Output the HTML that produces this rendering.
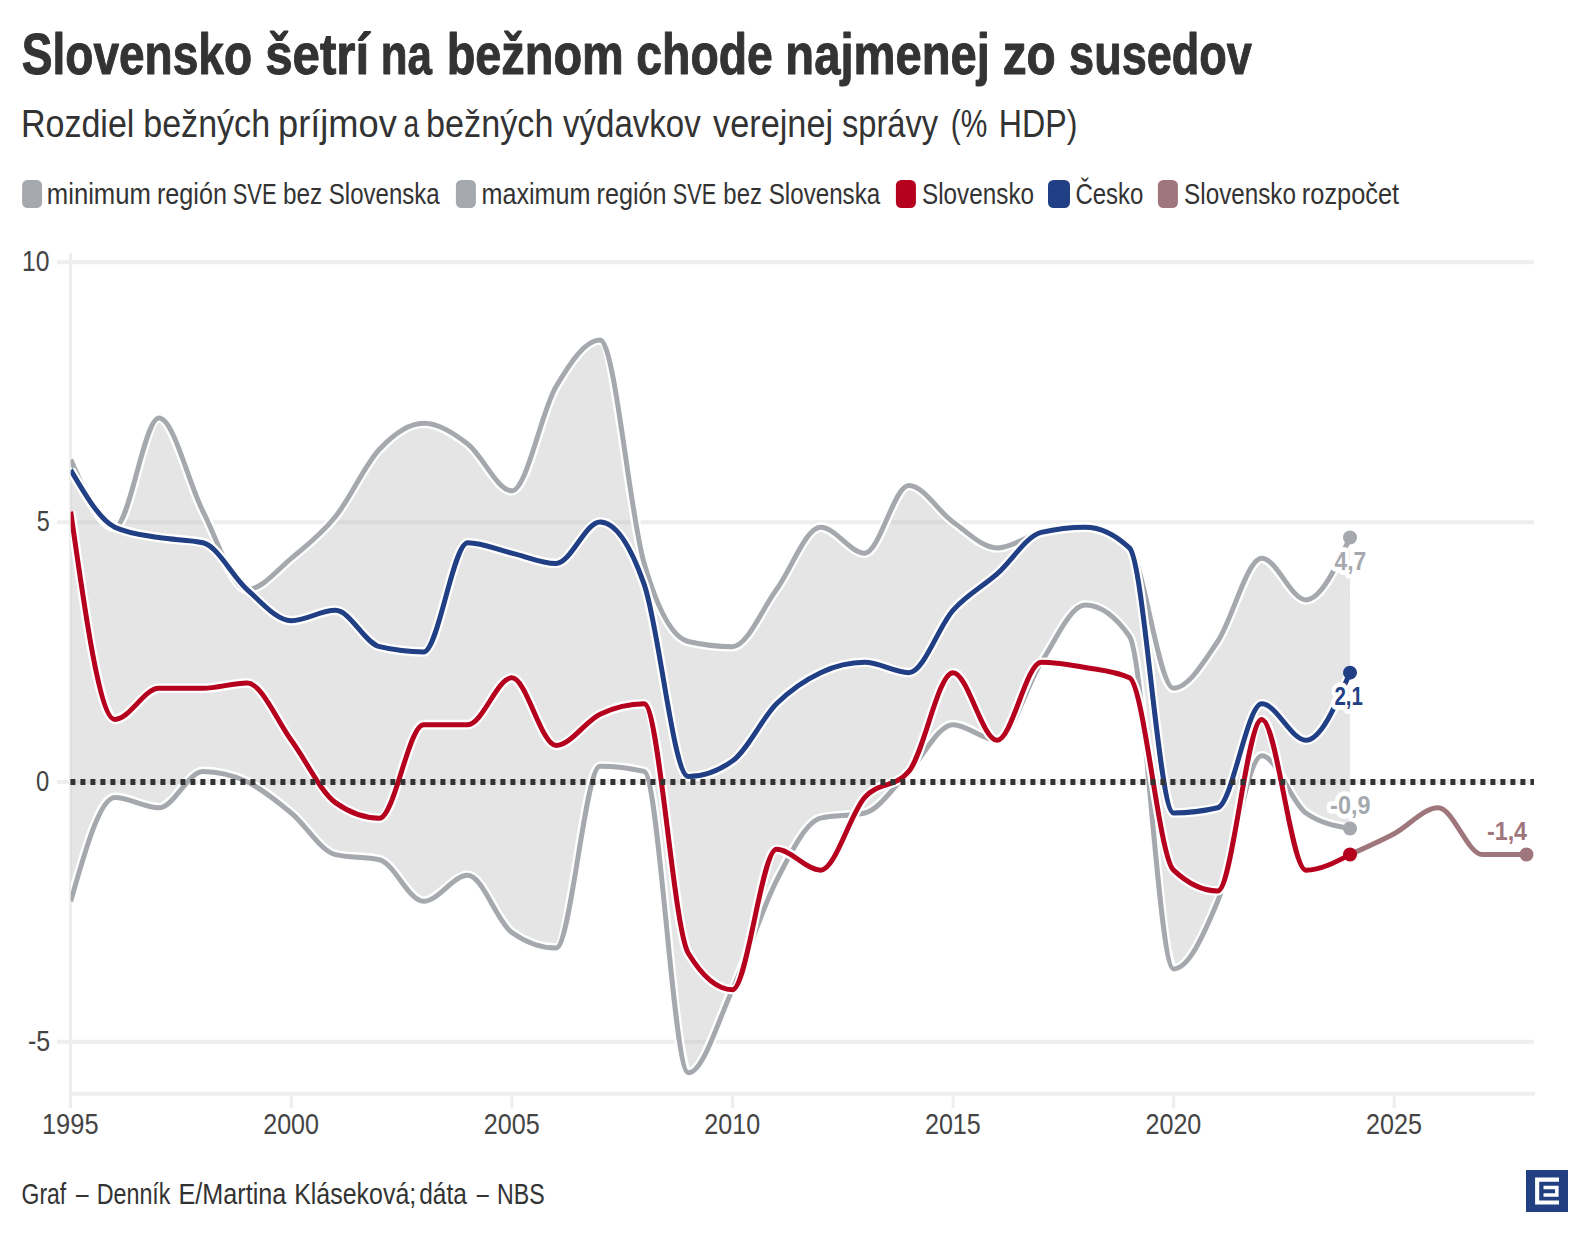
<!DOCTYPE html>
<html lang="sk"><head><meta charset="utf-8"><title>Slovensko šetrí na bežnom chode najmenej zo susedov</title>
<style>
html,body{margin:0;padding:0;background:#fff;}
body{width:1588px;height:1240px;overflow:hidden;}
svg{display:block;font-family:"Liberation Sans",sans-serif;}
.halo{fill:none;stroke:#fff;stroke-width:9.6;stroke-linecap:butt;stroke-linejoin:round;}
.ln{fill:none;stroke-width:5;stroke-linecap:butt;stroke-linejoin:round;}
.lab{paint-order:stroke;stroke:#fff;stroke-width:9.5;stroke-linejoin:round;}
</style></head><body>
<svg width="1588" height="1240" viewBox="0 0 1588 1240">
<rect width="1588" height="1240" fill="#fff"/>

<g id="title" stroke="#333" stroke-width="1" stroke-linejoin="round">
<text transform="translate(21.81,73.9) scale(0.8134,1)" font-size="56.6" font-weight="bold" fill="#333333">Slovensko</text>
<text transform="translate(265.17,73.9) scale(0.8708,1)" font-size="56.6" font-weight="bold" fill="#333333">šetrí</text>
<text transform="translate(380.85,73.9) scale(0.7743,1)" font-size="56.6" font-weight="bold" fill="#333333">na</text>
<text transform="translate(446.65,73.9) scale(0.8282,1)" font-size="56.6" font-weight="bold" fill="#333333">bežnom</text>
<text transform="translate(636.29,73.9) scale(0.8194,1)" font-size="56.6" font-weight="bold" fill="#333333">chode</text>
<text transform="translate(785.33,73.9) scale(0.8338,1)" font-size="56.6" font-weight="bold" fill="#333333">najmenej</text>
<text transform="translate(1002.69,73.9) scale(0.8457,1)" font-size="56.6" font-weight="bold" fill="#333333">zo</text>
<text transform="translate(1069.12,73.9) scale(0.7959,1)" font-size="56.6" font-weight="bold" fill="#333333">susedov</text>
</g>
<g id="subtitle">
<text transform="translate(20.91,137.4) scale(0.8685,1)" font-size="39.2" fill="#333333">Rozdiel</text>
<text transform="translate(143.22,137.4) scale(0.8690,1)" font-size="39.2" fill="#333333">bežných</text>
<text transform="translate(277.98,137.4) scale(0.9248,1)" font-size="39.2" fill="#333333">príjmov</text>
<text transform="translate(403.52,137.4) scale(0.7182,1)" font-size="39.2" fill="#333333">a</text>
<text transform="translate(426.11,137.4) scale(0.8719,1)" font-size="39.2" fill="#333333">bežných</text>
<text transform="translate(563,137.4) scale(0.8428,1)" font-size="39.2" fill="#333333">výdavkov</text>
<text transform="translate(713,137.4) scale(0.8756,1)" font-size="39.2" fill="#333333">verejnej</text>
<text transform="translate(841.92,137.4) scale(0.8328,1)" font-size="39.2" fill="#333333">správy</text>
<text transform="translate(950.75,137.4) scale(0.7619,1)" font-size="39.2" fill="#333333">(%</text>
<text transform="translate(998.86,137.4) scale(0.8208,1)" font-size="39.2" fill="#333333">HDP)</text>
</g>
<g id="legend">
<rect x="22.1" y="180" width="20" height="28" rx="5.5" ry="5.5" fill="#a5a9ae"/>
<rect x="455.9" y="180" width="20" height="28" rx="5.5" ry="5.5" fill="#a5a9ae"/>
<rect x="895.9" y="180" width="20" height="28" rx="5.5" ry="5.5" fill="#b5001e"/>
<rect x="1048" y="180" width="22" height="28" rx="5.5" ry="5.5" fill="#213f84"/>
<rect x="1157.9" y="180" width="20" height="28" rx="5.5" ry="5.5" fill="#a0767d"/>
<text transform="translate(46.81,203.8) scale(0.8856,1)" font-size="29" fill="#333333">minimum</text>
<text transform="translate(156.94,203.8) scale(0.8692,1)" font-size="29" fill="#333333">región</text>
<text transform="translate(232.71,203.8) scale(0.7567,1)" font-size="29" fill="#333333">SVE</text>
<text transform="translate(283.04,203.8) scale(0.8396,1)" font-size="29" fill="#333333">bez</text>
<text transform="translate(328.82,203.8) scale(0.8292,1)" font-size="29" fill="#333333">Slovenska</text>
<text transform="translate(481.44,203.8) scale(0.8680,1)" font-size="29" fill="#333333">maximum</text>
<text transform="translate(596.54,203.8) scale(0.8692,1)" font-size="29" fill="#333333">región</text>
<text transform="translate(672.82,203.8) scale(0.7495,1)" font-size="29" fill="#333333">SVE</text>
<text transform="translate(723.37,203.8) scale(0.8235,1)" font-size="29" fill="#333333">bez</text>
<text transform="translate(768.71,203.8) scale(0.8338,1)" font-size="29" fill="#333333">Slovenska</text>
<text transform="translate(922.01,203.8) scale(0.8377,1)" font-size="29" fill="#333333">Slovensko</text>
<text transform="translate(1075.4,203.8) scale(0.8284,1)" font-size="29" fill="#333333">Česko</text>
<text transform="translate(1184.11,203.8) scale(0.8362,1)" font-size="29" fill="#333333">Slovensko</text>
<text transform="translate(1301.83,203.8) scale(0.8751,1)" font-size="29" fill="#333333">rozpočet</text>
</g>
<g id="grid" stroke="#eeeeee" stroke-width="4">
<line x1="57" x2="1534" y1="262.3" y2="262.3"/>
<line x1="57" x2="1534" y1="522.15" y2="522.15"/>
<line x1="57" x2="1534" y1="782" y2="782"/>
<line x1="57" x2="1534" y1="1041.85" y2="1041.85"/>
<line x1="69" x2="1535" y1="1093.7" y2="1093.7"/>
<line x1="291.37" x2="291.37" y1="1093.7" y2="1108" stroke-width="3"/>
<line x1="511.94" x2="511.94" y1="1093.7" y2="1108" stroke-width="3"/>
<line x1="732.51" x2="732.51" y1="1093.7" y2="1108" stroke-width="3"/>
<line x1="953.08" x2="953.08" y1="1093.7" y2="1108" stroke-width="3"/>
<line x1="1173.65" x2="1173.65" y1="1093.7" y2="1108" stroke-width="3"/>
<line x1="1394.22" x2="1394.22" y1="1093.7" y2="1108" stroke-width="3"/>
<line x1="70.5" x2="70.5" y1="253" y2="1108" stroke-width="3"/>
</g>
<g id="ylabels">
<text transform="translate(21.93,271.4) scale(0.8500,1)" font-size="29" fill="#444">10</text>
<text transform="translate(36.67,531.25) scale(0.8058,1)" font-size="29" fill="#444">5</text>
<text transform="translate(36.07,791.1) scale(0.8207,1)" font-size="29" fill="#444">0</text>
<text transform="translate(27.9,1050.95) scale(0.8621,1)" font-size="29" fill="#444">-5</text>
</g><g id="xlabels">
<text transform="translate(41.97,1134) scale(0.8772,1)" font-size="29" fill="#444">1995</text>
<text transform="translate(263.22,1134) scale(0.8653,1)" font-size="29" fill="#444">2000</text>
<text transform="translate(483.78,1134) scale(0.8665,1)" font-size="29" fill="#444">2005</text>
<text transform="translate(704.36,1134) scale(0.8653,1)" font-size="29" fill="#444">2010</text>
<text transform="translate(924.92,1134) scale(0.8665,1)" font-size="29" fill="#444">2015</text>
<text transform="translate(1145.5,1134) scale(0.8653,1)" font-size="29" fill="#444">2020</text>
<text transform="translate(1366.06,1134) scale(0.8665,1)" font-size="29" fill="#444">2025</text>
</g>
<clipPath id="plotclip"><rect x="70.7" y="240" width="1480" height="870"/></clipPath><g clip-path="url(#plotclip)">
<path d="M70.7,459.59C85.4,493.37,100.11,527.15,114.81,527.15C129.52,527.15,144.22,418.01,158.93,418.01C173.63,418.01,188.34,482.97,203.04,511.56C217.75,540.14,232.45,589.51,247.16,589.51C261.86,589.51,276.57,570.46,291.27,558.33C305.97,546.2,320.68,534.94,335.38,516.75C350.09,498.56,364.79,464.78,379.5,449.19C394.2,433.6,408.91,423.21,423.61,423.21C438.32,423.21,453.02,432.73,467.73,443.99C482.43,455.26,497.14,490.77,511.84,490.77C526.54,490.77,541.25,411.95,555.95,386.83C570.66,361.71,585.36,340.05,600.07,340.05C614.77,340.05,629.48,513.29,644.18,563.53C658.89,613.76,673.59,638.02,688.3,641.48C703,644.95,717.71,646.68,732.41,646.68C747.11,646.68,761.82,609.43,776.52,589.51C791.23,569.59,805.93,527.15,820.64,527.15C835.34,527.15,850.05,553.13,864.75,553.13C879.46,553.13,894.16,485.57,908.87,485.57C923.57,485.57,938.28,511.56,952.98,521.95C967.68,532.34,982.39,547.93,997.09,547.93C1011.8,547.93,1026.5,535.81,1041.21,532.34C1055.91,528.88,1070.62,527.15,1085.32,527.15C1100.03,527.15,1114.73,534.08,1129.44,547.93C1144.14,561.79,1158.85,688.25,1173.55,688.25C1188.25,688.25,1202.96,663.14,1217.66,641.48C1232.37,619.83,1247.07,558.33,1261.78,558.33C1276.48,558.33,1291.19,599.9,1305.89,599.9C1320.6,599.9,1335.3,568.72,1350.01,537.54L1350.01,828.57C1335.3,825.97,1320.6,823.38,1305.89,812.98C1291.19,802.59,1276.48,755.81,1261.78,755.81C1247.07,755.81,1232.37,865.82,1217.66,901.33C1202.96,936.84,1188.25,968.89,1173.55,968.89C1158.85,968.89,1144.14,657.07,1129.44,636.28C1114.73,615.5,1100.03,605.1,1085.32,605.1C1070.62,605.1,1055.91,639.75,1041.21,662.27C1026.5,684.79,1011.8,740.22,997.09,740.22C982.39,740.22,967.68,724.63,952.98,724.63C938.28,724.63,923.57,756.68,908.87,771.41C894.16,786.13,879.46,809.52,864.75,812.98C850.05,816.45,835.34,814.71,820.64,818.18C805.93,821.64,791.23,851.96,776.52,880.54C761.82,909.13,747.11,957.63,732.41,989.68C717.71,1021.73,703,1072.83,688.3,1072.83C673.59,1072.83,658.89,774.87,644.18,771.41C629.48,767.94,614.77,766.21,600.07,766.21C585.36,766.21,570.66,948.1,555.95,948.1C541.25,948.1,526.54,942.91,511.84,932.51C497.14,922.12,482.43,875.35,467.73,875.35C453.02,875.35,438.32,901.33,423.61,901.33C408.91,901.33,394.2,863.22,379.5,859.75C364.79,856.29,350.09,858.02,335.38,854.56C320.68,851.09,305.97,825.11,291.27,812.98C276.57,800.86,261.86,788.73,247.16,781.8C232.45,774.87,217.75,771.41,203.04,771.41C188.34,771.41,173.63,807.78,158.93,807.78C144.22,807.78,129.52,797.39,114.81,797.39C100.11,797.39,85.4,849.36,70.7,901.33Z" fill="#bbbbbb" fill-opacity="0.38"/>
<path class="halo" d="M70.7,901.33C85.4,849.36,100.11,797.39,114.81,797.39C129.52,797.39,144.22,807.78,158.93,807.78C173.63,807.78,188.34,771.41,203.04,771.41C217.75,771.41,232.45,774.87,247.16,781.8C261.86,788.73,276.57,800.86,291.27,812.98C305.97,825.11,320.68,851.09,335.38,854.56C350.09,858.02,364.79,856.29,379.5,859.75C394.2,863.22,408.91,901.33,423.61,901.33C438.32,901.33,453.02,875.35,467.73,875.35C482.43,875.35,497.14,922.12,511.84,932.51C526.54,942.91,541.25,948.1,555.95,948.1C570.66,948.1,585.36,766.21,600.07,766.21C614.77,766.21,629.48,767.94,644.18,771.41C658.89,774.87,673.59,1072.83,688.3,1072.83C703,1072.83,717.71,1021.73,732.41,989.68C747.11,957.63,761.82,909.13,776.52,880.54C791.23,851.96,805.93,821.64,820.64,818.18C835.34,814.71,850.05,816.45,864.75,812.98C879.46,809.52,894.16,786.13,908.87,771.41C923.57,756.68,938.28,724.63,952.98,724.63C967.68,724.63,982.39,740.22,997.09,740.22C1011.8,740.22,1026.5,684.79,1041.21,662.27C1055.91,639.75,1070.62,605.1,1085.32,605.1C1100.03,605.1,1114.73,615.5,1129.44,636.28C1144.14,657.07,1158.85,968.89,1173.55,968.89C1188.25,968.89,1202.96,936.84,1217.66,901.33C1232.37,865.82,1247.07,755.81,1261.78,755.81C1276.48,755.81,1291.19,802.59,1305.89,812.98C1320.6,823.38,1335.3,825.97,1350.01,828.57"/>
<path class="ln" stroke="#a5a9ae" d="M70.7,901.33C85.4,849.36,100.11,797.39,114.81,797.39C129.52,797.39,144.22,807.78,158.93,807.78C173.63,807.78,188.34,771.41,203.04,771.41C217.75,771.41,232.45,774.87,247.16,781.8C261.86,788.73,276.57,800.86,291.27,812.98C305.97,825.11,320.68,851.09,335.38,854.56C350.09,858.02,364.79,856.29,379.5,859.75C394.2,863.22,408.91,901.33,423.61,901.33C438.32,901.33,453.02,875.35,467.73,875.35C482.43,875.35,497.14,922.12,511.84,932.51C526.54,942.91,541.25,948.1,555.95,948.1C570.66,948.1,585.36,766.21,600.07,766.21C614.77,766.21,629.48,767.94,644.18,771.41C658.89,774.87,673.59,1072.83,688.3,1072.83C703,1072.83,717.71,1021.73,732.41,989.68C747.11,957.63,761.82,909.13,776.52,880.54C791.23,851.96,805.93,821.64,820.64,818.18C835.34,814.71,850.05,816.45,864.75,812.98C879.46,809.52,894.16,786.13,908.87,771.41C923.57,756.68,938.28,724.63,952.98,724.63C967.68,724.63,982.39,740.22,997.09,740.22C1011.8,740.22,1026.5,684.79,1041.21,662.27C1055.91,639.75,1070.62,605.1,1085.32,605.1C1100.03,605.1,1114.73,615.5,1129.44,636.28C1144.14,657.07,1158.85,968.89,1173.55,968.89C1188.25,968.89,1202.96,936.84,1217.66,901.33C1232.37,865.82,1247.07,755.81,1261.78,755.81C1276.48,755.81,1291.19,802.59,1305.89,812.98C1320.6,823.38,1335.3,825.97,1350.01,828.57"/>
<path class="halo" d="M70.7,459.59C85.4,493.37,100.11,527.15,114.81,527.15C129.52,527.15,144.22,418.01,158.93,418.01C173.63,418.01,188.34,482.97,203.04,511.56C217.75,540.14,232.45,589.51,247.16,589.51C261.86,589.51,276.57,570.46,291.27,558.33C305.97,546.2,320.68,534.94,335.38,516.75C350.09,498.56,364.79,464.78,379.5,449.19C394.2,433.6,408.91,423.21,423.61,423.21C438.32,423.21,453.02,432.73,467.73,443.99C482.43,455.26,497.14,490.77,511.84,490.77C526.54,490.77,541.25,411.95,555.95,386.83C570.66,361.71,585.36,340.05,600.07,340.05C614.77,340.05,629.48,513.29,644.18,563.53C658.89,613.76,673.59,638.02,688.3,641.48C703,644.95,717.71,646.68,732.41,646.68C747.11,646.68,761.82,609.43,776.52,589.51C791.23,569.59,805.93,527.15,820.64,527.15C835.34,527.15,850.05,553.13,864.75,553.13C879.46,553.13,894.16,485.57,908.87,485.57C923.57,485.57,938.28,511.56,952.98,521.95C967.68,532.34,982.39,547.93,997.09,547.93C1011.8,547.93,1026.5,535.81,1041.21,532.34C1055.91,528.88,1070.62,527.15,1085.32,527.15C1100.03,527.15,1114.73,534.08,1129.44,547.93C1144.14,561.79,1158.85,688.25,1173.55,688.25C1188.25,688.25,1202.96,663.14,1217.66,641.48C1232.37,619.83,1247.07,558.33,1261.78,558.33C1276.48,558.33,1291.19,599.9,1305.89,599.9C1320.6,599.9,1335.3,568.72,1350.01,537.54"/>
<path class="ln" stroke="#a5a9ae" d="M70.7,459.59C85.4,493.37,100.11,527.15,114.81,527.15C129.52,527.15,144.22,418.01,158.93,418.01C173.63,418.01,188.34,482.97,203.04,511.56C217.75,540.14,232.45,589.51,247.16,589.51C261.86,589.51,276.57,570.46,291.27,558.33C305.97,546.2,320.68,534.94,335.38,516.75C350.09,498.56,364.79,464.78,379.5,449.19C394.2,433.6,408.91,423.21,423.61,423.21C438.32,423.21,453.02,432.73,467.73,443.99C482.43,455.26,497.14,490.77,511.84,490.77C526.54,490.77,541.25,411.95,555.95,386.83C570.66,361.71,585.36,340.05,600.07,340.05C614.77,340.05,629.48,513.29,644.18,563.53C658.89,613.76,673.59,638.02,688.3,641.48C703,644.95,717.71,646.68,732.41,646.68C747.11,646.68,761.82,609.43,776.52,589.51C791.23,569.59,805.93,527.15,820.64,527.15C835.34,527.15,850.05,553.13,864.75,553.13C879.46,553.13,894.16,485.57,908.87,485.57C923.57,485.57,938.28,511.56,952.98,521.95C967.68,532.34,982.39,547.93,997.09,547.93C1011.8,547.93,1026.5,535.81,1041.21,532.34C1055.91,528.88,1070.62,527.15,1085.32,527.15C1100.03,527.15,1114.73,534.08,1129.44,547.93C1144.14,561.79,1158.85,688.25,1173.55,688.25C1188.25,688.25,1202.96,663.14,1217.66,641.48C1232.37,619.83,1247.07,558.33,1261.78,558.33C1276.48,558.33,1291.19,599.9,1305.89,599.9C1320.6,599.9,1335.3,568.72,1350.01,537.54"/>
<path class="halo" d="M70.7,511.56C85.4,615.5,100.11,719.44,114.81,719.44C129.52,719.44,144.22,688.25,158.93,688.25C173.63,688.25,188.34,688.25,203.04,688.25C217.75,688.25,232.45,683.06,247.16,683.06C261.86,683.06,276.57,720.3,291.27,740.22C305.97,760.15,320.68,792.19,335.38,802.59C350.09,812.98,364.79,818.18,379.5,818.18C394.2,818.18,408.91,724.63,423.61,724.63C438.32,724.63,453.02,724.63,467.73,724.63C482.43,724.63,497.14,677.86,511.84,677.86C526.54,677.86,541.25,745.42,555.95,745.42C570.66,745.42,585.36,721.17,600.07,714.24C614.77,707.31,629.48,703.84,644.18,703.84C658.89,703.84,673.59,929.05,688.3,953.3C703,977.55,717.71,989.68,732.41,989.68C747.11,989.68,761.82,849.36,776.52,849.36C791.23,849.36,805.93,870.15,820.64,870.15C835.34,870.15,850.05,813.85,864.75,797.39C879.46,780.93,894.16,788.73,908.87,771.41C923.57,754.08,938.28,672.66,952.98,672.66C967.68,672.66,982.39,740.22,997.09,740.22C1011.8,740.22,1026.5,662.27,1041.21,662.27C1055.91,662.27,1070.62,664.87,1085.32,667.47C1100.03,670.06,1114.73,670.93,1129.44,677.86C1144.14,684.79,1158.85,856.29,1173.55,870.15C1188.25,884.01,1202.96,890.94,1217.66,890.94C1232.37,890.94,1247.07,719.44,1261.78,719.44C1276.48,719.44,1291.19,870.15,1305.89,870.15C1320.6,870.15,1335.3,862.35,1350.01,854.56"/>
<path class="ln" stroke="#b5001e" d="M70.7,511.56C85.4,615.5,100.11,719.44,114.81,719.44C129.52,719.44,144.22,688.25,158.93,688.25C173.63,688.25,188.34,688.25,203.04,688.25C217.75,688.25,232.45,683.06,247.16,683.06C261.86,683.06,276.57,720.3,291.27,740.22C305.97,760.15,320.68,792.19,335.38,802.59C350.09,812.98,364.79,818.18,379.5,818.18C394.2,818.18,408.91,724.63,423.61,724.63C438.32,724.63,453.02,724.63,467.73,724.63C482.43,724.63,497.14,677.86,511.84,677.86C526.54,677.86,541.25,745.42,555.95,745.42C570.66,745.42,585.36,721.17,600.07,714.24C614.77,707.31,629.48,703.84,644.18,703.84C658.89,703.84,673.59,929.05,688.3,953.3C703,977.55,717.71,989.68,732.41,989.68C747.11,989.68,761.82,849.36,776.52,849.36C791.23,849.36,805.93,870.15,820.64,870.15C835.34,870.15,850.05,813.85,864.75,797.39C879.46,780.93,894.16,788.73,908.87,771.41C923.57,754.08,938.28,672.66,952.98,672.66C967.68,672.66,982.39,740.22,997.09,740.22C1011.8,740.22,1026.5,662.27,1041.21,662.27C1055.91,662.27,1070.62,664.87,1085.32,667.47C1100.03,670.06,1114.73,670.93,1129.44,677.86C1144.14,684.79,1158.85,856.29,1173.55,870.15C1188.25,884.01,1202.96,890.94,1217.66,890.94C1232.37,890.94,1247.07,719.44,1261.78,719.44C1276.48,719.44,1291.19,870.15,1305.89,870.15C1320.6,870.15,1335.3,862.35,1350.01,854.56"/>
<path class="halo" d="M70.7,469.98C85.4,495.1,100.11,520.22,114.81,527.15C129.52,534.08,144.22,534.94,158.93,537.54C173.63,540.14,188.34,539.27,203.04,542.74C217.75,546.2,232.45,576.52,247.16,589.51C261.86,602.5,276.57,620.69,291.27,620.69C305.97,620.69,320.68,610.3,335.38,610.3C350.09,610.3,364.79,643.21,379.5,646.68C394.2,650.14,408.91,651.88,423.61,651.88C438.32,651.88,453.02,542.74,467.73,542.74C482.43,542.74,497.14,549.67,511.84,553.13C526.54,556.6,541.25,563.53,555.95,563.53C570.66,563.53,585.36,521.95,600.07,521.95C614.77,521.95,629.48,542.74,644.18,584.31C658.89,625.89,673.59,776.6,688.3,776.6C703,776.6,717.71,771.41,732.41,761.01C747.11,750.62,761.82,718.57,776.52,703.84C791.23,689.12,805.93,679.59,820.64,672.66C835.34,665.73,850.05,662.27,864.75,662.27C879.46,662.27,894.16,672.66,908.87,672.66C923.57,672.66,938.28,626.76,952.98,610.3C967.68,593.84,982.39,586.91,997.09,573.92C1011.8,560.93,1026.5,535.81,1041.21,532.34C1055.91,528.88,1070.62,527.15,1085.32,527.15C1100.03,527.15,1114.73,534.08,1129.44,547.93C1144.14,561.79,1158.85,812.98,1173.55,812.98C1188.25,812.98,1202.96,811.25,1217.66,807.78C1232.37,804.32,1247.07,703.84,1261.78,703.84C1276.48,703.84,1291.19,740.22,1305.89,740.22C1320.6,740.22,1335.3,706.44,1350.01,672.66"/>
<path class="ln" stroke="#213f84" d="M70.7,469.98C85.4,495.1,100.11,520.22,114.81,527.15C129.52,534.08,144.22,534.94,158.93,537.54C173.63,540.14,188.34,539.27,203.04,542.74C217.75,546.2,232.45,576.52,247.16,589.51C261.86,602.5,276.57,620.69,291.27,620.69C305.97,620.69,320.68,610.3,335.38,610.3C350.09,610.3,364.79,643.21,379.5,646.68C394.2,650.14,408.91,651.88,423.61,651.88C438.32,651.88,453.02,542.74,467.73,542.74C482.43,542.74,497.14,549.67,511.84,553.13C526.54,556.6,541.25,563.53,555.95,563.53C570.66,563.53,585.36,521.95,600.07,521.95C614.77,521.95,629.48,542.74,644.18,584.31C658.89,625.89,673.59,776.6,688.3,776.6C703,776.6,717.71,771.41,732.41,761.01C747.11,750.62,761.82,718.57,776.52,703.84C791.23,689.12,805.93,679.59,820.64,672.66C835.34,665.73,850.05,662.27,864.75,662.27C879.46,662.27,894.16,672.66,908.87,672.66C923.57,672.66,938.28,626.76,952.98,610.3C967.68,593.84,982.39,586.91,997.09,573.92C1011.8,560.93,1026.5,535.81,1041.21,532.34C1055.91,528.88,1070.62,527.15,1085.32,527.15C1100.03,527.15,1114.73,534.08,1129.44,547.93C1144.14,561.79,1158.85,812.98,1173.55,812.98C1188.25,812.98,1202.96,811.25,1217.66,807.78C1232.37,804.32,1247.07,703.84,1261.78,703.84C1276.48,703.84,1291.19,740.22,1305.89,740.22C1320.6,740.22,1335.3,706.44,1350.01,672.66"/>
<path class="halo" d="M1350.01,854.56C1364.71,848.06,1379.42,841.57,1394.12,833.77C1408.82,825.97,1423.53,807.78,1438.23,807.78C1452.94,807.78,1467.64,854.56,1482.35,854.56C1497.05,854.56,1511.76,854.56,1526.46,854.56"/>
<path class="ln" stroke="#a0767d" d="M1350.01,854.56C1364.71,848.06,1379.42,841.57,1394.12,833.77C1408.82,825.97,1423.53,807.78,1438.23,807.78C1452.94,807.78,1467.64,854.56,1482.35,854.56C1497.05,854.56,1511.76,854.56,1526.46,854.56"/>
</g>
<line x1="70.4" x2="1534" y1="781.9" y2="781.9" stroke="#333" stroke-width="6" stroke-dasharray="5 5"/>
<g id="labels">
<text transform="translate(1334.56,569.8) scale(0.8778,1)" font-size="26" font-weight="bold" fill="#a5a9ae" class="lab">4,7</text>
<text transform="translate(1334.5,704.7) scale(0.7872,1)" font-size="26" font-weight="bold" fill="#213f84" class="lab">2,1</text>
<text transform="translate(1330.09,813.6) scale(0.9009,1)" font-size="26" font-weight="bold" fill="#a5a9ae" class="lab">-0,9</text>
<text transform="translate(1486.89,839.6) scale(0.8980,1)" font-size="26" font-weight="bold" fill="#a0767d" class="lab">-1,4</text>
</g>
<circle cx="1350.01" cy="828.57" r="7" fill="#a5a9ae"/>
<circle cx="1350.01" cy="537.54" r="7" fill="#a5a9ae"/>
<circle cx="1350.01" cy="854.56" r="7" fill="#b5001e"/>
<circle cx="1350.01" cy="672.66" r="7" fill="#213f84"/>
<circle cx="1526.46" cy="854.56" r="7" fill="#a0767d"/>
<g id="footer">
<text transform="translate(21.55,1203.7) scale(0.7925,1)" font-size="29" fill="#333333">Graf</text>
<text transform="translate(76.1,1203.7) scale(0.7752,1)" font-size="29" fill="#333333">–</text>
<text transform="translate(96.69,1203.7) scale(0.8029,1)" font-size="29" fill="#333333">Denník</text>
<text transform="translate(178.53,1203.7) scale(0.8691,1)" font-size="29" fill="#333333">E/Martina</text>
<text transform="translate(294.15,1203.7) scale(0.8613,1)" font-size="29" fill="#333333">Kláseková;</text>
<text transform="translate(419.27,1203.7) scale(0.8435,1)" font-size="29" fill="#333333">dáta</text>
<text transform="translate(476.7,1203.7) scale(0.7380,1)" font-size="29" fill="#333333">–</text>
<text transform="translate(497.1,1203.7) scale(0.7991,1)" font-size="29" fill="#333333">NBS</text>
</g>
<g id="logo" transform="translate(1526,1170)"><rect width="42" height="42" fill="#223f82"/>
<polyline points="33,9.65 11.15,9.65 11.15,32.45 33,32.45" fill="none" stroke="#fff" stroke-width="4.1"/>
<polyline points="17.5,17.45 30.85,17.45 30.85,25.05 17.5,25.05" fill="none" stroke="#fff" stroke-width="3.5"/></g>
</svg></body></html>
